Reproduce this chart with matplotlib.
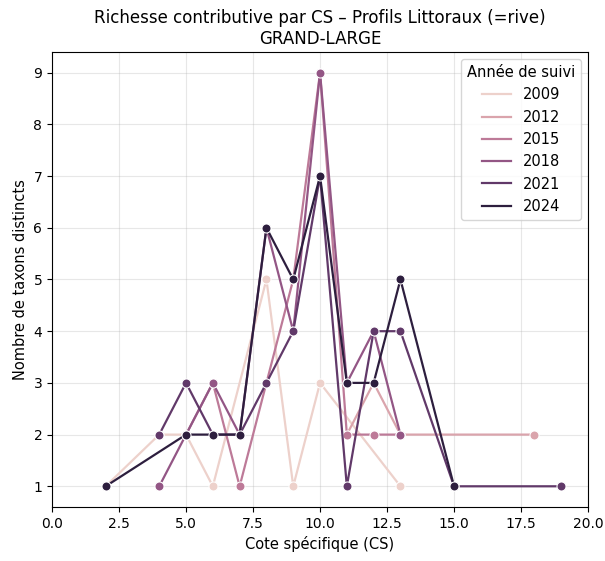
import numpy as np
import matplotlib
matplotlib.use("Agg")
import matplotlib.pyplot as plt
from matplotlib.lines import Line2D

# ---- data ----
years = [2009, 2012, 2015, 2018, 2021, 2024]
cs_2009 = [2, 4, 5, 6, 8, 9, 10, 13]
n_2009 = [1, 2, 2, 1, 5, 1, 3, 1]
cs_2012 = [11, 12, 13, 18]
n_2012 = [2, 3, 2, 2]
cs_2015 = [5, 6, 7, 8, 9, 10, 11, 12, 13]
n_2015 = [2, 3, 1, 3, 5, 9, 2, 2, 2]
cs_2018 = [4, 5, 6, 7, 8, 9, 10, 11, 12, 13]
n_2018 = [1, 2, 3, 2, 6, 4, 9, 3, 4, 2]
cs_2021 = [4, 5, 6, 7, 8, 9, 10, 11, 12, 13, 15, 19]
n_2021 = [2, 3, 2, 2, 3, 4, 7, 1, 4, 4, 1, 1]
cs_2024 = [2, 5, 6, 7, 8, 9, 10, 11, 12, 13, 15]
n_2024 = [1, 2, 2, 2, 6, 5, 7, 3, 3, 5, 1]

series = {
    2009: (cs_2009, n_2009),
    2012: (cs_2012, n_2012),
    2015: (cs_2015, n_2015),
    2018: (cs_2018, n_2018),
    2021: (cs_2021, n_2021),
    2024: (cs_2024, n_2024),
}
legend_years = [2009, 2012, 2015, 2018, 2021, 2024]

title = "Richesse contributive par CS – Profils Littoraux (=rive)\nGRAND-LARGE"
xlabel = "Cote spécifique (CS)"
ylabel = "Nombre de taxons distincts"
legend_title = "Année de suivi"


# seaborn-like default cubehelix sequential colormap
def cubehelix(t, start=0.0, rot=0.4, gamma=1.0, hue=0.8, light=0.85, dark=0.15):
    x = light + (dark - light) * t
    xg = x ** gamma
    a = hue * xg * (1 - xg) / 2
    phi = 2 * np.pi * (start / 3 + rot * x)
    r = xg + a * (-0.14861 * np.cos(phi) + 1.78277 * np.sin(phi))
    g = xg + a * (-0.29227 * np.cos(phi) - 0.90649 * np.sin(phi))
    b = xg + a * (1.97294 * np.cos(phi))
    return tuple(float(np.clip(v, 0, 1)) for v in (r, g, b))


ymin, ymax = min(years), max(years)


def col(y):
    return cubehelix((y - ymin) / (ymax - ymin))


fig = plt.figure(figsize=(6.05, 5.61), dpi=100)
ax = fig.add_axes([0.086, 0.0963, 0.886, 0.811])

for yr in years:
    xs, ns = series[yr]
    ax.plot(xs, ns, color=col(yr), lw=1.6, marker="o", markersize=6.5,
            markeredgecolor="white", markeredgewidth=0.75)

ax.set_xlim(0, 20)
ax.set_xticks(np.arange(0, 20.1, 2.5))
ax.set_yticks(range(1, 10))
ax.grid(True, alpha=0.3)
ax.set_axisbelow(True)
ax.set_title(title, fontsize=12)
ax.set_xlabel(xlabel, fontsize=10.5)
ax.set_ylabel(ylabel, fontsize=10.5)

handles = [Line2D([0], [0], color=col(y), lw=1.6) for y in legend_years]
ax.legend(handles, [str(y) for y in legend_years], title=legend_title,
          loc="upper right", fontsize=10.5, title_fontsize=10.5)

fig.savefig("out.png", dpi=100)
